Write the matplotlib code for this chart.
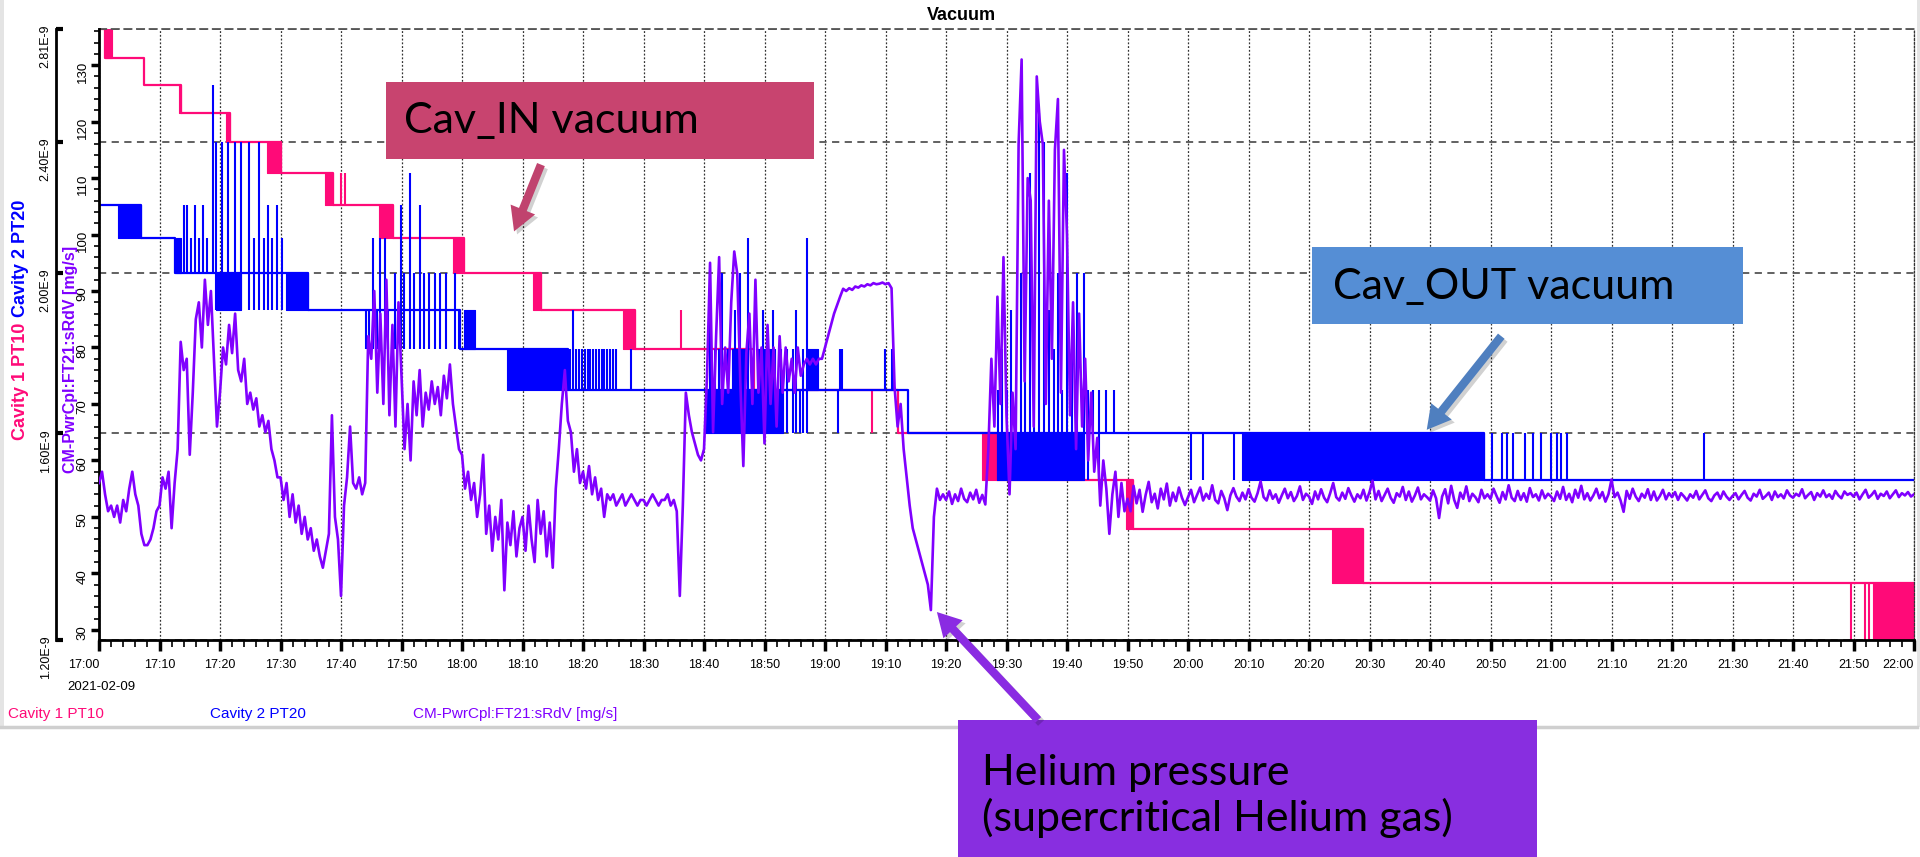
import numpy as np
import matplotlib.pyplot as plt
from matplotlib.patches import Rectangle, FancyArrowPatch
from matplotlib.lines import Line2D
from matplotlib.ticker import MultipleLocator, NullLocator, FixedLocator, FixedFormatter

plt.rcParams['font.family'] = ['Liberation Sans', 'DejaVu Sans']

# time axis: minutes after 17:00 on 2021-02-09
tick_minutes = list(range(0, 301, 10))
tick_labels = ["17:00", "17:10", "17:20", "17:30", "17:40", "17:50",
               "18:00", "18:10", "18:20", "18:30", "18:40", "18:50",
               "19:00", "19:10", "19:20", "19:30", "19:40", "19:50",
               "20:00", "20:10", "20:20", "20:30", "20:40", "20:50",
               "21:00", "21:10", "21:20", "21:30", "21:40", "21:50", "22:00"]

vac_ticks = [1.20, 1.60, 2.00, 2.40, 2.81]
vac_tick_labels = ["1.20E-9", "1.60E-9", "2.00E-9", "2.40E-9", "2.81E-9"]
flow_ticks = [30, 40, 50, 60, 70, 80, 90, 100, 110, 120, 130]

# CM-PwrCpl:FT21:sRdV [mg/s], one reading every 30 s from 17:00 to 22:00
flow = [
    56, 58, 54, 51, 52, 50, 52, 49, 53, 51, 55, 58, 54, 52, 47, 45, 45, 46, 48, 51,
    52, 57, 55, 58, 48, 56, 62, 81, 76, 78, 61, 72, 85, 88, 80, 92, 84, 90, 78, 66,
    72, 80, 77, 84, 79, 86, 76, 74, 78, 70, 72, 69, 71, 66, 68, 65, 67, 62, 60, 57,
    57, 53, 56, 50, 54, 49, 52, 47, 50, 46, 48, 44, 46, 43, 41, 44, 47, 68, 50, 46,
    36, 52, 57, 66, 56, 55, 57, 54, 56, 82, 78, 90, 72, 86, 70, 92, 68, 84, 66, 88,
    75, 62, 70, 60, 74, 68, 76, 66, 72, 69, 74, 70, 73, 68, 75, 71, 77, 70, 66, 62,
    61, 55, 58, 53, 56, 50, 54, 61, 47, 52, 44, 50, 46, 53, 37, 49, 45, 51, 43, 48,
    50, 44, 52, 46, 42, 53, 47, 51, 43, 49, 41, 55, 62, 70, 76, 67, 65, 58, 62, 56,
    58, 55, 59, 54, 57, 53, 55, 50, 54, 53, 54, 52, 53, 54, 52, 53, 54, 53, 52, 53,
    53, 52, 53, 54, 53, 52, 53, 53, 54, 52, 53, 51, 36, 52, 72, 68, 65, 63, 61, 60,
    62, 75, 95, 65, 82, 96, 70, 80, 72, 88, 97, 93, 74, 59, 79, 86, 70, 92, 72, 80,
    63, 84, 70, 80, 66, 82, 72, 80, 74, 78, 72, 80, 75, 77, 78, 77, 78, 77, 78, 78,
    80, 82, 84, 86, 87.5, 89, 90.4, 90, 90.5, 90.2, 90.8, 90.6, 91, 90.8, 91.2, 91, 91.4, 91.2, 91.3, 91.5,
    91.2, 91.4, 90.5, 73, 66, 70, 62, 57, 52, 48, 46, 44, 42, 40, 38, 33.5, 50, 55, 53, 54,
    53, 54.5, 52.3, 54, 52.8, 55, 53.2, 52.6, 54.3, 53.1, 54.8, 52.5, 53.9, 52.2, 62, 78, 66, 89, 70, 96,
    68, 54, 72, 62, 116, 131, 74, 110, 106, 66, 128, 120, 116, 70, 106, 78, 115, 124, 72, 115,
    100, 68, 88, 62, 86, 66, 78, 60, 72, 58, 64, 52, 60, 55, 47, 54, 58, 50, 56, 51,
    53.2, 51.0, 55.5, 52.4, 54.8, 50.9, 53.9, 56.2, 52.6, 54.1, 51.5, 55.0, 53.1, 55.9, 52.0, 54.3, 52.8, 55.2, 53.4, 52.1,
    53.5, 54.8, 52.6, 53.9, 55.2, 52.9, 54.1, 53.2, 55.6, 53.0, 52.4, 54.6, 53.3, 51.2, 53.8, 55.1, 53.6, 52.8, 54.3, 53.1,
    54.9, 53.4, 52.7, 54.2, 56.3, 53.5, 52.9, 54.7, 53.2, 54.0, 52.5, 53.8, 55.0, 53.3, 54.4, 52.8, 53.7, 55.4, 53.0, 54.1,
    53.6, 52.3, 54.5, 53.1, 54.9, 53.4, 52.6, 54.2, 56.0, 53.5, 52.9, 54.3, 53.2, 55.1, 53.8, 52.7, 54.0, 53.3, 54.8, 52.9,
    54.4, 56.4, 53.1, 54.6, 52.8, 53.9, 55.0, 53.4, 52.5, 54.2, 53.6, 55.3, 53.0, 54.5, 52.7, 53.8, 55.2, 53.1, 54.0, 53.5,
    52.9, 54.7, 53.3, 49.8, 53.6, 54.9, 52.4, 55.5, 53.0, 51.6, 54.3, 53.2, 55.4, 52.8, 54.1, 53.5, 52.6, 54.8, 53.3, 54.0,
    53.2, 55.0, 53.7, 52.5, 54.4, 53.1, 55.6, 53.4, 52.8, 54.6, 53.0, 54.2, 52.7, 55.1, 53.5, 54.0, 52.9, 54.7, 53.3, 54.1,
    53.6, 52.8, 54.5, 53.2, 55.3, 53.0, 54.1, 52.6, 54.8, 53.4, 55.5, 53.1, 54.2, 52.9, 53.8, 55.0, 53.3, 54.4, 52.7, 54.0,
    56.6, 53.5, 54.3, 52.9, 50.9, 54.6, 53.2, 55.0, 53.6, 52.8, 54.1, 53.4, 54.9, 53.0, 54.5, 52.9, 53.7, 54.8, 53.1, 54.2,
    53.5, 54.4, 53.0, 54.2, 53.6, 52.9, 54.0, 53.4, 54.6, 53.1, 53.9, 54.7, 53.3, 52.8, 53.8, 54.3, 53.2, 54.5, 53.6, 53.0,
    53.7, 54.2, 53.1, 53.9, 54.6, 53.4, 52.9, 54.1, 53.6, 54.8, 53.2, 53.7, 54.3, 53.0, 54.5, 53.5, 54.0, 53.3, 54.7, 53.8,
    53.4, 54.1, 53.7, 54.9, 53.3, 53.9, 54.4, 53.0, 54.2, 53.6, 54.7, 53.5, 54.0, 53.2, 54.6, 53.8, 53.3, 54.5, 53.9, 54.2,
    53.6, 54.3, 53.1, 54.0, 54.8, 53.4, 53.9, 54.6, 53.2, 54.1, 53.7, 54.5, 53.3, 54.0, 54.7, 53.5, 54.2, 53.8, 54.4, 53.6,
    54.0,
]

# Cavity 1 PT10 [E-9 mbar]: level changes (minute, value)
pt10_steps = [(0.0, 2.81), (1.0, 2.70), (7.4, 2.60), (13.6, 2.50), (21.6, 2.40),
              (30.0, 2.30), (38.7, 2.20), (48.6, 2.10), (60.3, 2.00), (73.1, 1.90),
              (88.6, 1.80), (108.2, 1.70), (132.0, 1.60), (148.4, 1.50),
              (170.9, 1.40), (209.0, 1.30)]
# fast toggling between two levels: (start, end, low, high)
pt10_bands = [(1.0, 2.1, 2.70, 2.81), (13.2, 13.6, 2.50, 2.60), (21.0, 21.6, 2.40, 2.50),
              (27.8, 30.0, 2.30, 2.40), (37.4, 38.7, 2.20, 2.30), (46.3, 48.6, 2.10, 2.20),
              (58.5, 60.3, 2.00, 2.10), (71.7, 73.1, 1.90, 2.00), (86.6, 88.6, 1.80, 1.90),
              (146.0, 148.4, 1.50, 1.60), (169.8, 170.9, 1.40, 1.50),
              (203.8, 209.0, 1.30, 1.40), (293.3, 300.0, 1.20, 1.30)]
# single excursions: (minute, low, high)
pt10_spikes = [(40.0, 2.20, 2.30), (40.6, 2.20, 2.30), (96.2, 1.80, 1.90),
               (127.8, 1.60, 1.70), (289.6, 1.20, 1.30), (291.9, 1.20, 1.30),
               (292.6, 1.20, 1.30)]

# Cavity 2 PT20 [E-9 mbar]
pt20_steps = [(0.0, 2.20), (6.9, 2.10), (12.6, 2.00), (34.5, 1.90), (59.7, 1.80),
              (77.5, 1.70), (133.7, 1.60), (228.9, 1.50)]
pt20_bands = [(3.2, 6.9, 2.10, 2.20), (12.8, 13.6, 2.00, 2.10), (19.3, 23.5, 1.90, 2.00),
              (30.9, 34.5, 1.90, 2.00), (60.3, 62.1, 1.80, 1.90), (67.4, 77.5, 1.70, 1.80),
              (100.2, 113.0, 1.60, 1.70), (104.6, 106.8, 1.70, 1.80),
              (108.8, 111.8, 1.70, 1.80), (117.0, 118.9, 1.70, 1.80),
              (148.4, 162.8, 1.50, 1.60), (188.9, 228.9, 1.50, 1.60)]
pt20_spikes = [
    (14.0, 2.00, 2.20), (14.6, 2.00, 2.20), (15.2, 2.00, 2.10), (15.8, 2.00, 2.20),
    (16.5, 2.00, 2.10), (17.2, 2.00, 2.20), (17.9, 2.00, 2.10), (18.8, 2.00, 2.60),
    (19.4, 1.90, 2.40), (20.3, 1.90, 2.40), (21.3, 1.90, 2.40), (22.4, 1.90, 2.40),
    (23.5, 1.90, 2.40), (24.8, 1.90, 2.40), (25.6, 1.90, 2.10), (26.4, 1.90, 2.40),
    (27.2, 1.90, 2.10), (27.9, 1.90, 2.20), (28.6, 1.90, 2.10), (29.4, 1.90, 2.20),
    (30.2, 1.90, 2.10),
    (44.2, 1.80, 1.90), (44.6, 1.80, 1.90), (45.3, 1.80, 2.10), (45.9, 1.80, 1.90),
    (46.4, 1.80, 2.10), (47.3, 1.80, 2.10), (47.8, 1.80, 1.90), (48.9, 1.80, 2.00),
    (49.9, 1.80, 2.20), (50.4, 1.80, 2.00), (51.4, 1.80, 2.30), (52.1, 1.80, 2.00),
    (53.0, 1.80, 2.20), (53.7, 1.80, 2.00), (54.6, 1.80, 2.00), (55.6, 1.80, 2.00),
    (56.4, 1.80, 2.00), (57.4, 1.80, 2.00), (58.9, 1.80, 2.00), (59.5, 1.80, 1.90),
    (77.8, 1.70, 1.80), (78.3, 1.70, 1.90), (78.8, 1.70, 1.80), (79.3, 1.70, 1.80),
    (79.8, 1.70, 1.80), (80.3, 1.70, 1.80), (80.8, 1.70, 1.80), (81.2, 1.70, 1.80),
    (81.6, 1.70, 1.80), (82.2, 1.70, 1.80), (82.6, 1.70, 1.80), (83.1, 1.70, 1.80),
    (83.5, 1.70, 1.80), (84.0, 1.70, 1.80), (84.5, 1.70, 1.80), (85.0, 1.70, 1.80),
    (85.5, 1.70, 1.80), (88.0, 1.70, 1.80),
    (101.0, 1.60, 2.00), (101.8, 1.60, 1.80), (102.5, 1.60, 1.80), (103.0, 1.60, 2.00),
    (104.0, 1.60, 1.80), (105.1, 1.60, 1.90), (106.0, 1.60, 2.00), (107.3, 1.60, 2.10),
    (109.8, 1.60, 1.90), (111.4, 1.60, 1.90), (112.8, 1.60, 1.80), (113.7, 1.60, 1.80),
    (114.7, 1.60, 1.80), (115.2, 1.60, 1.90), (115.8, 1.60, 1.70), (116.3, 1.60, 1.80),
    (117.0, 1.60, 2.10), (122.1, 1.60, 1.70), (122.5, 1.70, 1.80), (122.8, 1.70, 1.80),
    (129.9, 1.70, 1.80), (131.0, 1.70, 1.80), (131.3, 1.70, 1.80),
    (148.6, 1.50, 1.70), (149.2, 1.50, 1.80), (150.0, 1.50, 1.70), (150.8, 1.50, 1.90),
    (151.6, 1.50, 1.70), (152.4, 1.50, 2.00), (153.0, 1.50, 1.80), (153.9, 1.50, 2.30),
    (154.5, 1.50, 1.80), (155.4, 1.50, 2.50), (156.2, 1.50, 2.40), (157.0, 1.50, 1.90),
    (157.8, 1.50, 1.80), (158.5, 1.50, 2.00), (159.2, 1.50, 1.70), (160.0, 1.50, 2.30),
    (160.8, 1.50, 1.80), (161.7, 1.50, 2.00), (162.8, 1.50, 2.00), (163.5, 1.50, 1.70),
    (164.3, 1.60, 1.70), (165.3, 1.50, 1.70), (166.5, 1.60, 1.70), (167.7, 1.60, 1.70),
    (180.5, 1.50, 1.60), (182.5, 1.50, 1.60), (187.6, 1.50, 1.60),
    (230.2, 1.50, 1.60), (231.9, 1.50, 1.60), (232.8, 1.50, 1.60), (233.7, 1.50, 1.60),
    (235.7, 1.50, 1.60), (237.0, 1.50, 1.60), (238.3, 1.50, 1.60), (240.0, 1.50, 1.60),
    (241.0, 1.50, 1.60), (241.7, 1.50, 1.60), (242.6, 1.50, 1.60), (265.3, 1.50, 1.60),
]

PINK = "#FF0A78"
BLUE = "#0000FF"
PURPLE = "#8000FF"
W, H = 1920, 857


def fx(px):
    return px / W


def fy(py):
    return 1 - py / H


def draw_vacuum(ax, steps, bands, spikes, color, z):
    t = [s[0] for s in steps] + [300.0]
    v = [s[1] for s in steps] + [steps[-1][1]]
    ax.step(t, v, where="post", color=color, lw=1.6, zorder=z)
    for t0, t1, lo, hi in bands:
        ax.fill_between([t0, t1], lo, hi, color=color, lw=0.8, zorder=z)
    ts, los, his = zip(*spikes)
    ax.vlines(ts, los, his, color=color, lw=1.5, zorder=z)


fig = plt.figure(figsize=(19.2, 8.57), dpi=100)
axv = fig.add_axes([fx(99), fy(640), (1914 - 99) / W, (640 - 29) / H])
axp = axv.twinx()

# vacuum gauges on the log axis
draw_vacuum(axv, pt10_steps, pt10_bands, pt10_spikes, PINK, 2)
draw_vacuum(axv, pt20_steps, pt20_bands, pt20_spikes, BLUE, 3)

axv.set_yscale("log")
axv.set_ylim(1.2, 2.81)
axv.set_xlim(0, 300)
axv.yaxis.set_major_locator(FixedLocator(vac_ticks))
axv.yaxis.set_major_formatter(FixedFormatter(vac_tick_labels))
axv.yaxis.set_minor_locator(NullLocator())
axv.set_xticks(tick_minutes, tick_labels, fontsize=9)
axv.xaxis.set_minor_locator(MultipleLocator(2))
xl = axv.get_xticklabels()
xl[0].set_ha("right")
xl[-1].set_ha("right")

axv.tick_params(axis="x", which="major", direction="out", length=8, width=2.5, pad=6)
axv.tick_params(axis="x", which="minor", direction="out", length=5, width=1.2)
axv.tick_params(axis="y", which="major", direction="in", length=5, width=3, pad=3,
                labelrotation=90, labelsize=9)
axv.grid(axis="y", which="major", ls=(0, (4, 3)), color="#555555", lw=1.3)
axv.grid(axis="x", which="major", ls=(0, (1.5, 1.5)), color="#333333", lw=0.9)

axv.spines["left"].set_position(("outward", 31))
axv.spines["left"].set_linewidth(2)
axv.spines["bottom"].set_linewidth(2)
axv.spines["top"].set_linestyle((0, (4, 3)))
axv.spines["top"].set_color("#555555")
axv.spines["top"].set_linewidth(1.3)
axv.spines["right"].set_linestyle((0, (1.5, 1.5)))
axv.spines["right"].set_color("#333333")
axv.spines["right"].set_linewidth(0.9)

# helium flow on the linear axis
flow_t = np.arange(len(flow)) * 0.5
axp.plot(flow_t, flow, color=PURPLE, lw=1.9, zorder=4)
axp.set_ylim(28.2, 136.4)
axp.yaxis.tick_left()
axp.yaxis.set_label_position("left")
axp.yaxis.set_major_locator(FixedLocator(flow_ticks))
axp.yaxis.set_minor_locator(MultipleLocator(2))
axp.tick_params(axis="y", which="major", direction="out", length=6, width=2.5, pad=1.5,
                labelrotation=90, labelsize=9.5)
axp.tick_params(axis="y", which="minor", direction="out", length=3.5, width=1.2)
for side in ("top", "right", "bottom"):
    axp.spines[side].set_visible(False)
axp.spines["left"].set_linewidth(2)
axp.set_ylabel("CM-PwrCpl:FT21:sRdV [mg/s]", color=PURPLE, fontsize=11.5,
               fontweight="bold")
axp.yaxis.set_label_coords(-0.0118, 0.46)

# titles and labels around the plot
fig.text(fx(961), fy(15), "Vacuum", fontsize=13, fontweight="bold", ha="center", va="center")
fig.text(fx(21), fy(323), "Cavity 1 PT10", color=PINK, fontsize=13, fontweight="bold",
         rotation=90, ha="center", va="top")
fig.text(fx(21), fy(317), "Cavity 2 PT20", color=BLUE, fontsize=13, fontweight="bold",
         rotation=90, ha="center", va="bottom")
fig.text(fx(67), fy(687), "2021-02-09", fontsize=9.5, va="center")
fig.text(fx(8), fy(714), "Cavity 1 PT10", color=PINK, fontsize=11, va="center")
fig.text(fx(210), fy(714), "Cavity 2 PT20", color=BLUE, fontsize=11, va="center")
fig.text(fx(413), fy(714), "CM-PwrCpl:FT21:sRdV [mg/s]", color=PURPLE, fontsize=11,
         va="center")

# panel frame
fig.add_artist(Line2D([0, fx(1917)], [fy(727), fy(727)], color="#CFCFCF", lw=2.5))
fig.add_artist(Rectangle((fx(1917), fy(727)), 3 / W, 727 / H, transform=fig.transFigure,
                         facecolor="#E4E4E4", edgecolor="none"))
fig.add_artist(Rectangle((0, fy(727)), 4 / W, 727 / H, transform=fig.transFigure,
                         facecolor="#E4E4E4", edgecolor="none"))


def callout(x0, y0, x1, y1, color, text, tx, ty):
    fig.add_artist(Rectangle((fx(x0), fy(y1)), (x1 - x0) / W, (y1 - y0) / H,
                             transform=fig.transFigure, facecolor=color,
                             edgecolor="none", zorder=10))
    fig.text(fx(tx), fy(ty), text, fontsize=31, family="Lato", ha="left",
             va="center", linespacing=1.2, zorder=11)


def arrow(xa, ya, xb, yb, color):
    style = "simple,head_length=1.7,head_width=1.9,tail_width=0.6"
    fig.add_artist(FancyArrowPatch((fx(xa + 3), fy(ya + 3)), (fx(xb + 3), fy(yb + 3)),
                                   transform=fig.transFigure, arrowstyle=style,
                                   mutation_scale=10, color="#000000", alpha=0.18,
                                   lw=0, zorder=10))
    fig.add_artist(FancyArrowPatch((fx(xa), fy(ya)), (fx(xb), fy(yb)),
                                   transform=fig.transFigure, arrowstyle=style,
                                   mutation_scale=10, color=color, lw=0, zorder=11))


callout(386, 82, 814, 159, "#C8446F", "Cav_IN vacuum", 404, 121)
arrow(542, 162, 513, 234, "#C0436E")

callout(1312, 247, 1743, 324, "#558ED5", "Cav_OUT vacuum", 1333, 287)
arrow(1503, 334, 1425, 432, "#4F7FBF")

callout(958, 720, 1537, 858, "#882EE0", "Helium pressure\n(supercritical Helium gas)", 982, 796)
arrow(1040, 722, 935, 610, "#8A2BE2")

fig.savefig("out.png", dpi=100, facecolor="white")
